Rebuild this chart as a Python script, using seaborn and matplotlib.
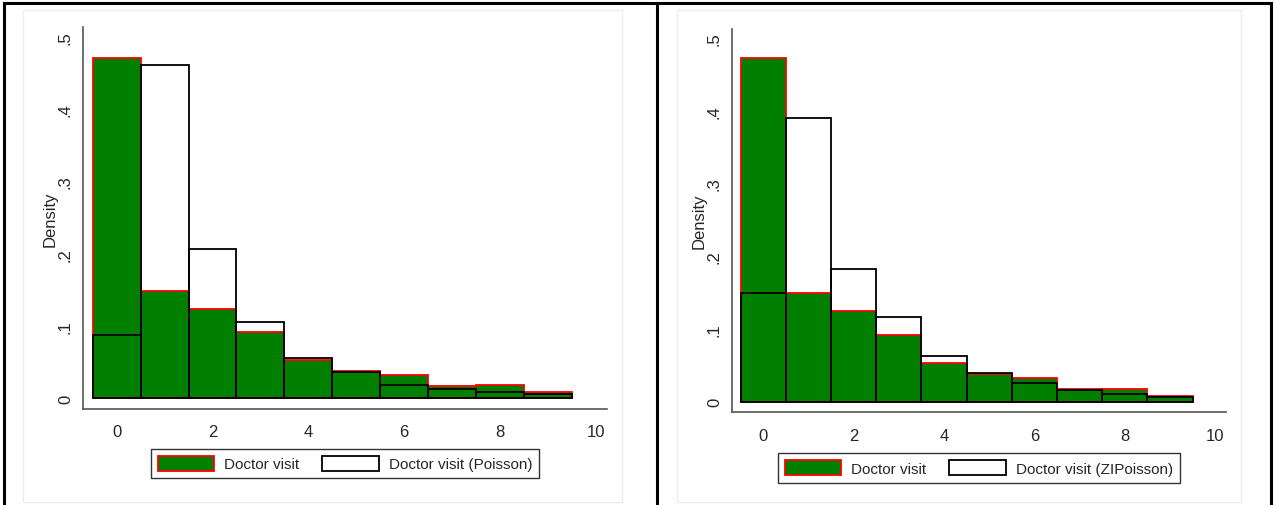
import numpy as np
import pandas as pd
import matplotlib
matplotlib.use("Agg")
import matplotlib.pyplot as plt
from matplotlib.patches import Patch, Rectangle
from matplotlib.lines import Line2D
import seaborn as sns

visits = [0, 1, 2, 3, 4, 5, 6, 7, 8, 9]
observed = [0.472, 0.149, 0.124, 0.091, 0.053, 0.038, 0.032, 0.017, 0.018, 0.008]
poisson = [0.088, 0.461, 0.206, 0.105, 0.055, 0.036, 0.018, 0.012, 0.008, 0.006]
zipoisson = [0.150, 0.390, 0.182, 0.116, 0.063, 0.040, 0.025, 0.016, 0.010, 0.007]

x_ticks = [0, 2, 4, 6, 8, 10]
y_ticks = [0, 0.1, 0.2, 0.3, 0.4, 0.5]
y_tick_labels = ["0", ".1", ".2", ".3", ".4", ".5"]

df = pd.DataFrame({"visits": visits, "observed": observed,
                   "poisson": poisson, "zipoisson": zipoisson})

sns.set_style("white")
plt.rcParams["font.family"] = ["Liberation Sans", "DejaVu Sans"]

W, H = 1274, 506
fig = plt.figure(figsize=(W / 100, H / 100), dpi=100)

GREEN = "#007f00"


def panel(rect, model_col, model_name, ylim, xlim, leg_y):
    ax = fig.add_axes(rect)
    sns.histplot(data=df, x="visits", weights="observed", discrete=True,
                 stat="count", color=GREEN, edgecolor="red", linewidth=1.3,
                 alpha=1, ax=ax)
    sns.histplot(data=df, x="visits", weights=model_col, discrete=True,
                 stat="count", fill=False, color="black", linewidth=1.3,
                 ax=ax)
    ax.set_xlim(*xlim)
    ax.set_ylim(*ylim)
    ax.set_xticks(x_ticks)
    ax.set_yticks(y_ticks)
    ax.set_yticklabels(y_tick_labels, rotation=90, va="center")
    ax.tick_params(axis="both", labelsize=12, length=5, width=1,
                   color="#444444", direction="out")
    ax.tick_params(axis="x", pad=6)
    ax.tick_params(axis="y", pad=2)
    ax.set_xlabel("")
    ax.set_ylabel("Density", fontsize=12, labelpad=0)
    for s in ["top", "right"]:
        ax.spines[s].set_visible(False)
    for s in ["left", "bottom"]:
        ax.spines[s].set_color("#555555")
        ax.spines[s].set_linewidth(1.2)
    handles = [Patch(facecolor=GREEN, edgecolor="red", linewidth=1.3),
               Patch(facecolor="white", edgecolor="black", linewidth=1.3)]
    leg = ax.legend(handles, ["Doctor visit", model_name], ncol=2,
                    loc="center", bbox_to_anchor=(0.5, leg_y),
                    fontsize=11, frameon=True, fancybox=False,
                    edgecolor="black", handlelength=3.7, handleheight=1.1,
                    handletextpad=0.65, columnspacing=1.5, borderpad=0.45)
    leg.get_frame().set_linewidth(1.0)
    return ax


panel([82.7 / W, 1 - 410 / H, (607 - 82.7) / W, (410 - 28) / H],
      "poisson", "Doctor visit (Poisson)",
      (-0.0152, 0.5143), (-0.71, 10.24), -0.143)
panel([731.7 / W, 1 - 413.3 / H, (1226 - 731.7) / W, (413.3 - 30) / H],
      "zipoisson", "Doctor visit (ZIPoisson)",
      (-0.0146, 0.5124), (-0.70, 10.24), -0.145)

# light inner frames of each graph region
for x0, x1, y0, y1 in [(23, 622, 11, 503), (677, 1241, 11, 503)]:
    fig.add_artist(Rectangle((x0 / W, 1 - y1 / H), (x1 - x0) / W, (y1 - y0) / H,
                             transform=fig.transFigure, fill=False,
                             edgecolor="#e8efef", linewidth=1.0))

# outer black table border and divider
for xs, ys in [([4, 4], [4, 506]), ([4, 1271], [4, 4]),
               ([1271, 1271], [4, 506]), ([657, 657], [4, 506])]:
    fig.add_artist(Line2D([x / W for x in xs], [1 - y / H for y in ys],
                          transform=fig.transFigure, color="black",
                          linewidth=2.2, solid_capstyle="projecting"))

fig.savefig("out.png", dpi=100, facecolor="white")
